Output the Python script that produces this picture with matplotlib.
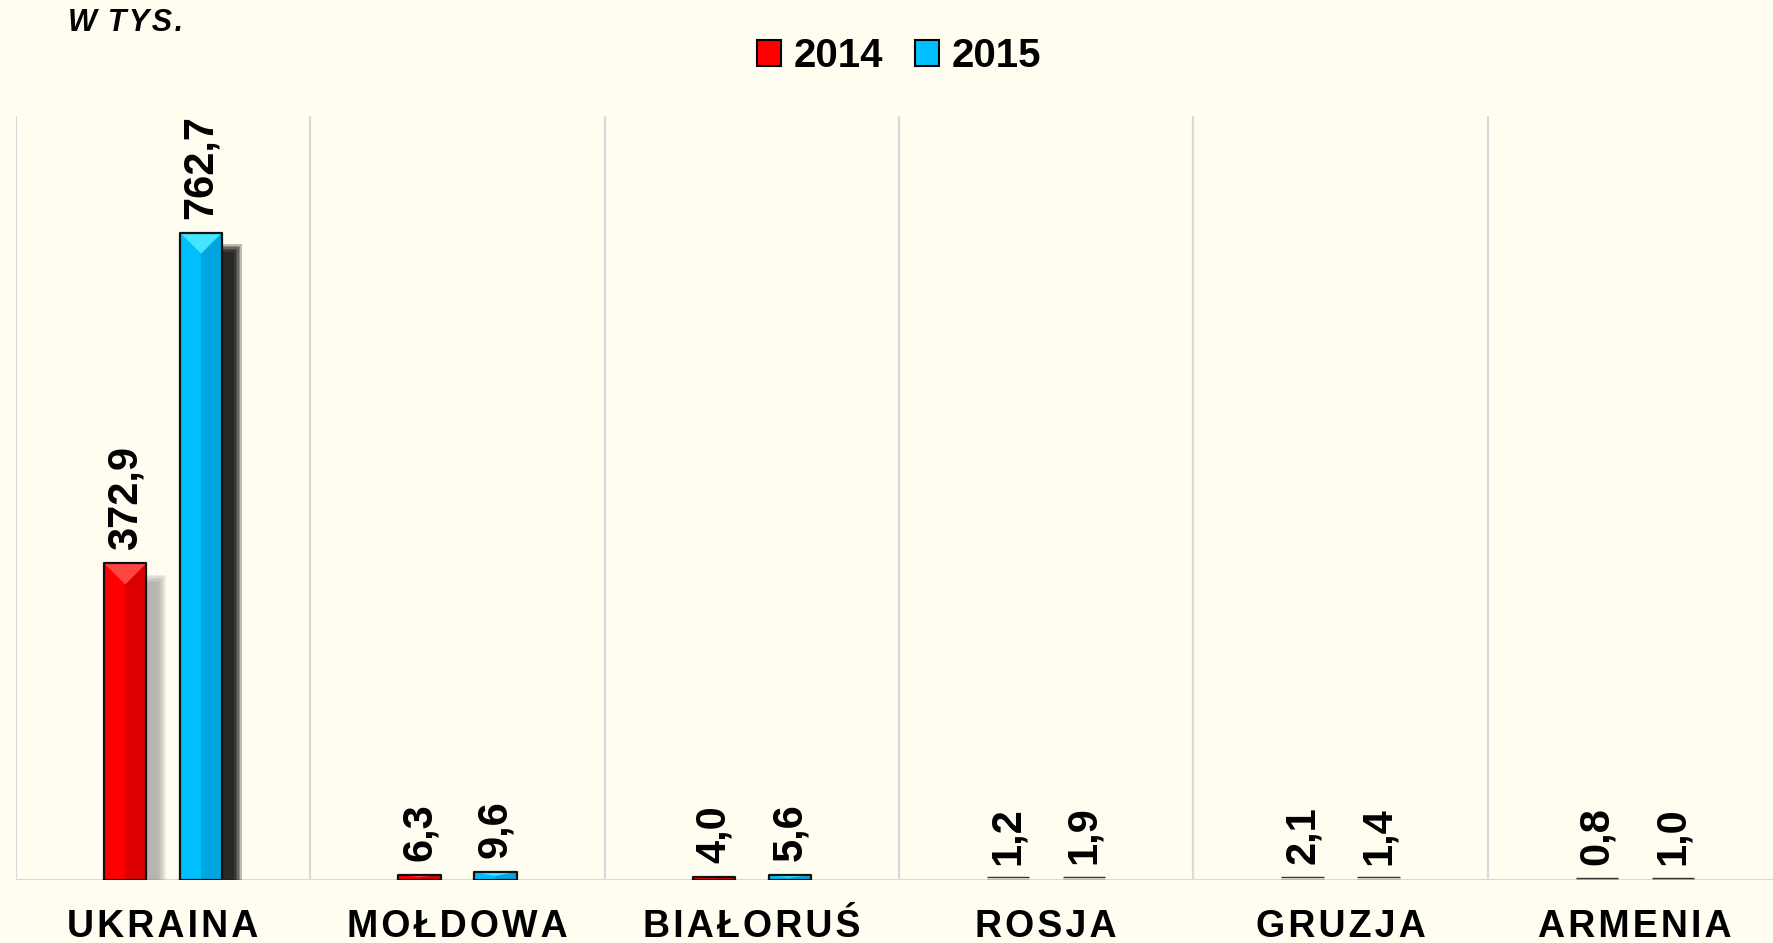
import numpy as np
import matplotlib; matplotlib.use("Agg"); import matplotlib.pyplot as plt
from matplotlib.patches import Polygon, Rectangle

plt.rcParams['font.family'] = ['Liberation Sans', 'DejaVu Sans']

KRAJE = ["UKRAINA", "MOŁDOWA", "BIAŁORUŚ", "ROSJA", "GRUZJA", "ARMENIA"]
LATA = ["2014", "2015"]
V2014 = [372.9, 6.3, 4.0, 1.2, 2.1, 0.8]
V2015 = [762.7, 9.6, 5.6, 1.9, 1.4, 1.0]

BG = "#FFFDF0"
KOL = {"2014": ("#FF0000", "#DD0000", "#FF4444"),
       "2015": ("#00BFFF", "#00A6E0", "#44E6FF")}
SZER = 0.143; OFF = 0.129; YMAX = 900
HS = "\u200a"  # odstęp między literami

W, H = 1773, 943
fig = plt.figure(figsize=(W/100, H/100), dpi=100, facecolor=BG)
ax = fig.add_axes([16/W, 63/H, 1766/W, 764/H], facecolor=BG)
ax.set_xlim(-0.5, len(KRAJE)-0.5); ax.set_ylim(0, YMAX)
for s in ax.spines.values(): s.set_visible(False)
ax.set_yticks([])
ax.set_xticks(np.arange(-0.5, len(KRAJE)), minor=True)
ax.xaxis.grid(True, which="minor", color="#D9D9D9", lw=1.6, zorder=0)
ax.axhline(0, color="#D9D9D9", lw=2.2, zorder=1)
ax.set_xticks(range(len(KRAJE)))
ax.set_xticklabels([HS.join(k) for k in KRAJE], fontsize=27, fontweight="bold")
ax.tick_params(axis="x", which="both", length=0, pad=21)

# przeliczenie px -> dane
pxx = 1766/len(KRAJE); pxy = 764/YMAX

def slupek(x, h, rok):
    kol, ciem, jasn = KOL[rok]
    x0 = x-SZER/2
    if h*pxy < 3:
        # bardzo niski słupek: dwie kreski jak w oryginale
        ax.hlines([0.2, h+1.5/pxy], x0, x0+SZER, color="#333333", lw=1.0, zorder=5)
    else:
        # cień
        dx = 15/pxx; dy = 16/pxy
        if h-dy > 0:
            sc, a = ("black", 0.26) if rok == "2015" else ("#888888", 0.14)
            for k in range(6):
                e = (3-k)*1.5
                ax.add_patch(Rectangle((x0+dx-e/pxx, 0), SZER+2*e/pxx, h-dy+e/pxy,
                                       fc=sc, ec="none", alpha=a, zorder=2))
        ax.add_patch(Rectangle((x0, 0), SZER/2, h, fc=kol, ec="none", zorder=3))
        ax.add_patch(Rectangle((x, 0), SZER/2, h, fc=ciem, ec="none", zorder=3))
        d = min(SZER/2*pxx/pxy, h/2)
        ax.add_patch(Polygon([(x0, h), (x0+SZER, h), (x, h-d)], closed=True, fc=jasn, ec="none", zorder=4))
        ax.plot([x0, x0, x0+SZER, x0+SZER, x0], [0, h, h, 0, 0], color="#111111",
                lw=1.6, solid_joinstyle="round", zorder=5)
    ax.annotate(f"{h:.1f}".replace(".", ","), (x, h), xytext=(0, 10), textcoords="offset points",
                rotation=90, ha="center", va="bottom", fontsize=30, fontweight="bold", zorder=6)

for i in range(len(KRAJE)):
    slupek(i-OFF, V2014[i], "2014")
    slupek(i+OFF, V2015[i], "2015")

uchwyty = [Rectangle((0, 0), 1, 1, fc=KOL[r][0], ec="black", lw=1.5) for r in LATA]
fig.legend(uchwyty, LATA, loc="center", bbox_to_anchor=(899/W, 1-56/H), ncol=2, frameon=False,
           prop={"size": 29, "weight": "bold"}, handlelength=0.6, handleheight=0.6,
           handletextpad=0.3, columnspacing=0.8)
fig.text(68/W, 1-8/H, "W" + HS + " " + HS.join("TYS."), fontsize=22, fontweight="bold",
         style="italic", va="top", ha="left")

fig.savefig("out.png", dpi=100, facecolor=BG)
